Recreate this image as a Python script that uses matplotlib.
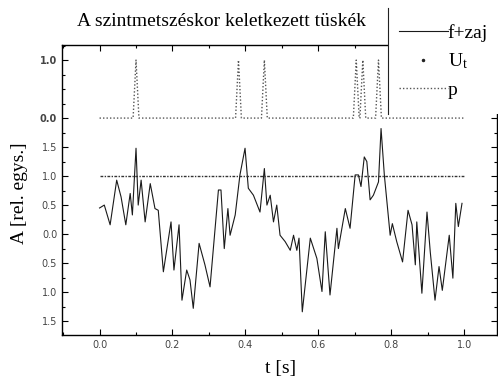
import numpy as np
import matplotlib
matplotlib.use('Agg')
import matplotlib.pyplot as plt
from matplotlib.lines import Line2D
from matplotlib.patches import Rectangle
from matplotlib.ticker import MultipleLocator

# ---- data ----
t = [0.000, 0.013, 0.029, 0.047, 0.059, 0.072, 0.084, 0.090, 0.100, 0.106,
     0.114, 0.125, 0.139, 0.152, 0.161, 0.175, 0.196, 0.204, 0.218, 0.226,
     0.239, 0.248, 0.257, 0.273, 0.289, 0.303, 0.326, 0.333, 0.342, 0.352,
     0.358, 0.372, 0.385, 0.399, 0.408, 0.422, 0.440, 0.452, 0.459, 0.468,
     0.477, 0.486, 0.495, 0.509, 0.523, 0.532, 0.541, 0.547, 0.556, 0.578,
     0.596, 0.610, 0.619, 0.632, 0.651, 0.655, 0.674, 0.687, 0.701, 0.710,
     0.717, 0.726, 0.733, 0.742, 0.751, 0.765, 0.772, 0.781, 0.797, 0.803,
     0.815, 0.831, 0.846, 0.857, 0.866, 0.870, 0.884, 0.898, 0.907, 0.920,
     0.931, 0.940, 0.959, 0.969, 0.977, 0.984, 0.994]
f_zaj = [0.45, 0.50, 0.16, 0.93, 0.64, 0.16, 0.70, 0.33, 1.48, 0.50,
         0.93, 0.21, 0.87, 0.44, 0.41, -0.65, 0.21, -0.62, 0.16, -1.14,
         -0.62, -0.79, -1.28, -0.16, -0.53, -0.91, 0.76, 0.76, -0.25, 0.44,
         -0.02, 0.33, 1.02, 1.48, 0.79, 0.67, 0.38, 1.13, 0.50, 0.67,
         0.21, 0.50, -0.02, -0.13, -0.28, -0.02, -0.28, -0.07, -1.34, -0.07,
         -0.42, -0.99, 0.04, -1.05, 0.10, -0.25, 0.44, 0.10, 1.02, 1.02,
         0.82, 1.33, 1.25, 0.59, 0.67, 0.90, 1.82, 1.02, -0.02, 0.18,
         -0.13, -0.48, 0.41, 0.16, -0.53, 0.21, -1.02, 0.38, -0.31, -1.14,
         -0.56, -0.97, -0.02, -0.76, 0.53, 0.13, 0.53]

ut_t = [0.0, 1.0]
ut_level = [1.0, 1.0]

pulse_times = [0.100, 0.381, 0.452, 0.704, 0.722, 0.765]
pulse_height = 1.0
pulse_halfwidth = 0.008
p_span = [0.0, 1.0]
p_offset = 2.0   # the p trace is stacked above the signal

lower_ticks = [-1.5, -1.0, -0.5, 0.0, 0.5, 1.0, 1.5]
lower_labels = ['1.5', '1.0', '0.5', '0.0', '0.5', '1.0', '1.5']
upper_ticks = [0.0, 1.0]
upper_labels = ['0.0', '1.0']
x_ticks = [0.0, 0.2, 0.4, 0.6, 0.8, 1.0]
x_labels = ['0.0', '0.2', '0.4', '0.6', '0.8', '1.0']

# build p series (spikes at the crossing times)
p_t = [p_span[0]]
p_v = [0.0]
for tp in pulse_times:
    p_t += [tp - pulse_halfwidth, tp, tp + pulse_halfwidth]
    p_v += [0.0, pulse_height, 0.0]
p_t.append(p_span[1])
p_v.append(0.0)

serif = ['Liberation Serif', 'DejaVu Serif']
plt.rcParams['mathtext.fontset'] = 'stix'

W, H = 498, 380
fig = plt.figure(figsize=(W / 100, H / 100), dpi=100)
ax = fig.add_axes([62 / W, 45 / H, (497 - 62) / W, (335 - 45) / H])

ax.plot(t, f_zaj, color='#1a1a1a', lw=0.8, zorder=3)
ax.plot(ut_t, ut_level, color='#333333', lw=1.0, ls=(0, (2, 1, 1, 1)), zorder=3)
ax.plot(p_t, p_offset + np.array(p_v), color='#555555', lw=1.0,
        ls=(0, (1, 1.5)), zorder=3)

ax.set_xlim(-0.103, 1.09)
ax.set_ylim(-1.74, 3.26)

ax.set_xticks(x_ticks)
ax.set_xticklabels(x_labels)
ax.xaxis.set_minor_locator(MultipleLocator(0.1))
yt = lower_ticks + [p_offset + v for v in upper_ticks]
ax.set_yticks(yt)
ax.set_yticklabels(lower_labels + upper_labels)
ax.yaxis.set_minor_locator(MultipleLocator(0.25))
for lab in ax.get_yticklabels()[-2:]:
    lab.set_fontweight('bold')
    lab.set_color('black')
    lab.set_fontsize(8)

ax.tick_params(which='both', direction='in', top=True, right=True,
               labelsize=7, labelcolor='#444444', width=0.8)
ax.tick_params(which='major', length=4)
ax.tick_params(which='minor', length=2.5)
for s in ax.spines.values():
    s.set_linewidth(1.0)

fig.text(221 / W, 1 - 22 / H, 'A szintmetszéskor keletkezett tüskék',
         ha='center', va='center', fontsize=14, family=serif)
fig.text(20 / W, 1 - 193 / H, 'A [rel. egys.]', rotation=90,
         ha='center', va='center', fontsize=14, family=serif)
fig.text(281 / W, 1 - 368 / H, 't [s]', ha='center', va='center',
         fontsize=14, family=serif)

# legend area (white box covering the corner of the frame)
fig.add_artist(Rectangle((388 / W, 1 - 114 / H), 1 - 388 / W, 114 / H,
                         transform=fig.transFigure, facecolor='white',
                         edgecolor='none', zorder=1))
fig.add_artist(Line2D([388 / W, 388 / W], [1 - 8 / H, 1 - 114 / H],
                      transform=fig.transFigure, color='#222222', lw=0.8,
                      zorder=2))
handles = [Line2D([], [], color='#1a1a1a', lw=0.8),
           Line2D([], [], ls='none', marker='.', ms=3, color='#222222'),
           Line2D([], [], color='#555555', lw=1.0, ls=(0, (1, 1.5)))]
leg = fig.legend(handles, ['f+zaj', r'U$_\mathregular{t}$', 'p'],
                 loc='upper left', bbox_to_anchor=(399 / W, 1 - 24 / H),
                 frameon=False, prop={'family': serif, 'size': 14},
                 handlelength=2.5, handletextpad=0.0, labelspacing=0.5,
                 borderpad=0, borderaxespad=0)
leg.set_zorder(5)

fig.savefig('out.png', dpi=100)
